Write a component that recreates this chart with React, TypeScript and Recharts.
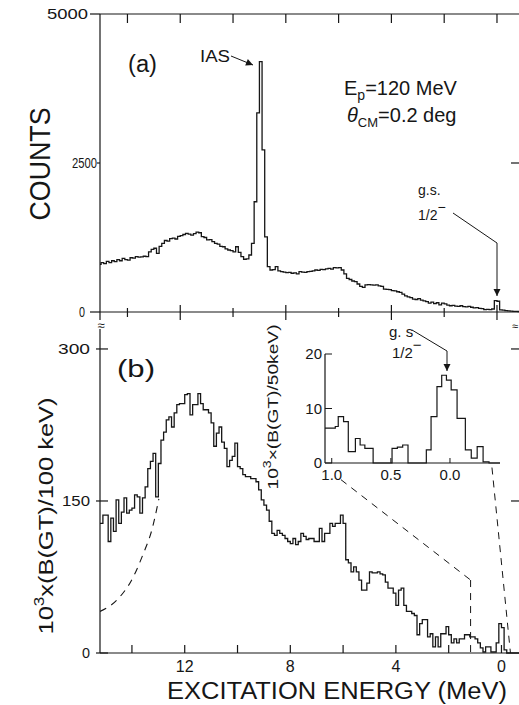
import React from 'react';
import { LineChart, Line, XAxis, YAxis, ReferenceLine } from 'recharts';

const INK = '#161616';
const FONT = '"Liberation Sans", "DejaVu Sans", sans-serif';

// (a) counts in 0.1 MeV bins, bin i starts at countsStart - i * binStep (MeV)
const countsStart = 15.1;
const counts = [
  800, 830, 810, 850, 830, 860, 845, 880, 860, 900,
  880, 870, 910, 905, 930, 920, 925, 935, 930, 1010,
  1050, 1070, 985, 1100, 1150, 1200, 1190, 1230, 1240, 1225,
  1270, 1280, 1300, 1320, 1305, 1290, 1315, 1340, 1330, 1265,
  1250, 1210, 1215, 1180, 1150, 1140, 1100, 1095, 1060, 1040,
  1030, 1010, 1095, 1000, 930, 885, 890, 956, 1150, 1850,
  3340, 4200, 2720, 1260, 760, 705, 710, 760, 690, 676,
  670, 660, 665, 650, 655, 640, 676, 670, 665, 676,
  680, 690, 705, 700, 716, 710, 725, 733, 720, 744,
  740, 744, 705, 640, 565, 545, 520, 508, 470, 430,
  414, 455, 460, 455, 450, 455, 440, 430, 385, 380,
  375, 360, 355, 340, 330, 300, 270, 255, 240, 215,
  210, 225, 200, 185, 175, 150, 165, 140, 155, 120,
  150, 135, 115, 105, 110, 100, 95, 105, 90, 85,
  95, 80, 70, 75, 60, 55, 40, 45, 40, 50,
  190, 180, 35, 30, 22, 20, 15, 12, 10, 8,
];

// (b) 10^3 x B(GT) per 100 keV, same bin layout
const bgtStart = 15.3;
const bgt = [
  128, 128, 136, 136, 110, 133, 120, 151, 128, 139,
  153, 138, 141, 143, 156, 154, 138, 153, 164, 182,
  189, 197, 154, 187, 210, 218, 230, 233, 223, 237,
  245, 246, 246, 255, 256, 235, 245, 245, 256, 246,
  240, 240, 237, 227, 204, 217, 223, 208, 202, 184,
  190, 194, 207, 184, 182, 176, 174, 174, 172, 172,
  169, 161, 151, 146, 141, 130, 118, 116, 121, 118,
  116, 113, 110, 108, 113, 107, 110, 118, 115, 112,
  113, 113, 110, 110, 123, 110, 118, 118, 128, 125,
  128, 128, 136, 128, 92, 89, 80, 85, 80, 72,
  62, 62, 69, 80, 79, 79, 80, 78, 77, 70,
  64, 64, 59, 47, 62, 64, 47, 41, 41, 39,
  37, 18, 29, 33, 33, 16, 19, 6, 16, 6,
  19, 19, 26, 18, 10, 14, 10, 14, 14, 18,
  18, 16, 16, 14, 10, 5, 1, 6, 6, 1,
  1, 10, 29, 25, 3, 0, 0, 0, 0, 0,
];
const binStep = 0.1;

// dashed background under the left shoulder of (b)
const bgEnergy = [15.21, 14.58, 13.95, 13.57, 13.25, 12.98];
const bgLevel = [41, 52, 75, 98, 121, 152];

// inset: 50 keV bins, edges (last edge closes the last bin)
const insetEdges = [1.1, 0.97, 0.945, 0.9, 0.86, 0.8, 0.76, 0.72, 0.65, 0.49, 0.445, 0.4, 0.355,
  0.2, 0.16, 0.11, 0.07, 0.03, -0.01, -0.06, -0.13, -0.18, -0.23, -0.28, -0.33, -0.45];
const insetBgt = [6.4, 6.7, 8.5, 7.6, 2.1, 4.5, 3.3, 2.7, 0, 2.7, 2.9, 3.3, 0,
  2.4, 8.5, 14.0, 16.1, 15.2, 13.4, 8.2, 2.4, 0.9, 3.0, 0.2, 0];

// dashed lines joining the inset to the main axis (data units of panel b)
const zoomLeft = [{ x: 6.08, y: 171 }, { x: 1.17, y: 72 }, { x: 1.17, y: 0 }];
const zoomRight = [{ x: 0.36, y: 183 }, { x: -0.34, y: 0 }];

const energyTicks = [14, 12, 10, 8, 6, 4, 2, 0];
const countTicks = [0, 2500, 5000];
const bgtTicks = [0, 150, 300];
const rightCountTicks = [2500];
const rightBgtTicks = [150, 300];
const insetYTicks = [0, 10, 20];
const insetXTicks = [1.0, 0.5, 0.0];

const domainA: [number, number] = [-0.91, 15.04];
const domainB: [number, number] = [-0.74, 15.21];
const domainInset: [number, number] = [-0.423, 1.057];

const steps = (start: number, vals: number[]) => {
  const rows = vals.map((v, i) => ({ e: +(start - binStep * i).toFixed(2), v }));
  rows.push({ e: +(start - binStep * vals.length).toFixed(2), v: vals[vals.length - 1] });
  return rows;
};
const countRows = steps(countsStart, counts);
const bgtRows = steps(bgtStart, bgt);
const bgRows = bgEnergy.map((e, i) => ({ e, v: bgLevel[i] }));
const insetRows = insetEdges.map((e, i) => ({ e, v: insetBgt[Math.min(i, insetBgt.length - 1)] }));

const axisLine = { stroke: INK, strokeWidth: 1.2 };

const countLabel: Record<number, { dx: number; len: number; tick: number }> = {
  5000: { dx: -12, len: 41, tick: 10 },
  2500: { dx: -3, len: 25, tick: 3 },
  0: { dx: -15, len: 6, tick: 10 },
};
const bgtLabel: Record<number, number> = { 300: 32, 150: 28, 0: 8 };

const countTick = (p: any) => {
  const v = p.payload.value;
  const s = countLabel[v];
  return (
    <g>
      <line x1={p.x - s.tick} x2={p.x} y1={p.y} y2={p.y} stroke={INK} strokeWidth={1.2} />
      <text x={p.x + s.dx} y={p.y + 5} textAnchor="end" fontSize={14} fontFamily={FONT} fill={INK}
        textLength={s.len} lengthAdjust="spacingAndGlyphs">{v}</text>
    </g>
  );
};

const bgtTick = (p: any) => {
  const v = p.payload.value;
  return (
    <g>
      <line x1={p.x - 4} x2={p.x + 8} y1={p.y} y2={p.y} stroke={INK} strokeWidth={1.2} />
      <text x={p.x - 10} y={p.y + 5} textAnchor="end" fontSize={15} fontFamily={FONT} fill={INK}
        textLength={bgtLabel[v]} lengthAdjust="spacingAndGlyphs">{v}</text>
    </g>
  );
};

const topTick = (p: any) => (
  <line x1={p.x} x2={p.x} y1={p.y} y2={p.y + 9} stroke={INK} strokeWidth={1.2} />
);

const crossTick = (p: any) => {
  const major = p.payload.value % 4 === 0;
  return <line x1={p.x} x2={p.x} y1={p.y - (major ? 7 : 4)} y2={p.y + (major ? 8 : 5)} stroke={INK} strokeWidth={1.2} />;
};

const energyTickB = (p: any) => {
  const v = p.payload.value;
  return (
    <g>
      <line x1={p.x} x2={p.x} y1={p.y - 8} y2={p.y} stroke={INK} strokeWidth={1.2} />
      {v % 4 === 0 && (
        <text x={p.x} y={p.y + 19} textAnchor="middle" fontSize={16} fontFamily={FONT} fill={INK}>{v}</text>
      )}
    </g>
  );
};

const insetYTick = (p: any) => (
  <g>
    <line x1={p.x} x2={p.x + 7} y1={p.y} y2={p.y} stroke={INK} strokeWidth={1} />
    <text x={p.x - 3} y={p.y + 5} textAnchor="end" fontSize={15} fontFamily={FONT} fill={INK}>{p.payload.value}</text>
  </g>
);

const insetXTick = (p: any) => (
  <g>
    <line x1={p.x} x2={p.x} y1={p.y - 5} y2={p.y} stroke={INK} strokeWidth={1} />
    <text x={p.x} y={p.y + 17} textAnchor="middle" fontSize={15} fontFamily={FONT} fill={INK}>
      {p.payload.value.toFixed(1)}
    </text>
  </g>
);

const Arrow = ({ pts }: { pts: number[][] }) => {
  const [x1, y1] = pts[pts.length - 2];
  const [x2, y2] = pts[pts.length - 1];
  const a = Math.atan2(y2 - y1, x2 - x1);
  const l = 7;
  const w = 3.5;
  const bx = x2 - l * Math.cos(a);
  const by = y2 - l * Math.sin(a);
  const head = `${x2},${y2} ${bx + w * Math.sin(a)},${by - w * Math.cos(a)} ${bx - w * Math.sin(a)},${by + w * Math.cos(a)}`;
  return (
    <g>
      <polyline points={pts.map((p) => p.join(',')).join(' ')} fill="none" stroke={INK} strokeWidth={1} />
      <polygon points={head} fill={INK} />
    </g>
  );
};

const abs = (left: number, top: number): React.CSSProperties => ({ position: 'absolute', left, top });

export default function App() {
  return (
    <div style={{ position: 'fixed', left: 0, top: 0, width: 519, height: 705, overflow: 'hidden', background: '#fff' }}>
      {/* panel (a) */}
      <div style={abs(0, 0)}>
        <LineChart width={560} height={330} margin={{ top: 0, right: 39, bottom: 0, left: 0 }}>
          <XAxis xAxisId="top" orientation="top" type="number" dataKey="e" domain={domainA} reversed allowDataOverflow
            ticks={energyTicks} interval={0} height={14} tickLine={false} tickSize={0} tickMargin={0}
            tick={topTick} axisLine={axisLine} />
          <XAxis xAxisId="bot" orientation="bottom" type="number" dataKey="e" domain={domainA} reversed allowDataOverflow
            ticks={energyTicks} interval={0} height={18} tickLine={false} tickSize={0} tickMargin={0}
            tick={crossTick} axisLine={axisLine} />
          <YAxis yAxisId="l" width={100} type="number" domain={[0, 5000]} ticks={countTicks} interval={0}
            tickLine={false} tickSize={0} tickMargin={0} tick={countTick} axisLine={axisLine} />
          {rightCountTicks.map((t) => (
            <ReferenceLine key={t} xAxisId="bot" yAxisId="l" segment={[{ x: -0.53, y: t }, { x: -0.91, y: t }]}
              stroke={INK} strokeWidth={1.2} />
          ))}
          <Line xAxisId="bot" yAxisId="l" data={countRows} dataKey="v" type="stepAfter" stroke={INK}
            strokeWidth={1.3} dot={false} isAnimationActive={false} />
        </LineChart>
      </div>

      {/* panel (b) */}
      <div style={abs(0, 0)}>
        <LineChart width={560} height={705} margin={{ top: 329, right: 39, bottom: 0, left: 0 }}>
          <XAxis type="number" dataKey="e" domain={domainB} reversed allowDataOverflow ticks={energyTicks} interval={0}
            height={52} tickLine={false} tickSize={0} tickMargin={0} tick={energyTickB} axisLine={axisLine} />
          <YAxis width={100} type="number" domain={[0, 319.7]} ticks={bgtTicks} interval={0}
            tickLine={false} tickSize={0} tickMargin={0} tick={bgtTick} axisLine={axisLine} />
          {rightBgtTicks.map((t) => (
            <ReferenceLine key={t} segment={[{ x: -0.36, y: t }, { x: -0.74, y: t }]} stroke={INK} strokeWidth={1.2} />
          ))}
          <ReferenceLine segment={[zoomLeft[0], zoomLeft[1]]} stroke={INK} strokeWidth={1} strokeDasharray="7 6" />
          <ReferenceLine segment={[zoomLeft[1], zoomLeft[2]]} stroke={INK} strokeWidth={1} strokeDasharray="7 6" />
          <ReferenceLine segment={[zoomRight[0], zoomRight[1]]} stroke={INK} strokeWidth={1} strokeDasharray="7 6" />
          <Line data={bgRows} dataKey="v" type="monotone" stroke={INK} strokeWidth={1.1} strokeDasharray="7 6"
            dot={false} isAnimationActive={false} />
          <Line data={bgtRows} dataKey="v" type="stepAfter" stroke={INK} strokeWidth={1.3}
            dot={false} isAnimationActive={false} />
        </LineChart>
      </div>

      {/* inset */}
      <div style={abs(260, 340)}>
        <LineChart width={240} height={148} margin={{ top: 14, right: 0, bottom: 0, left: 0 }}>
          <XAxis type="number" dataKey="e" domain={domainInset} reversed allowDataOverflow ticks={insetXTicks} interval={0}
            height={25} tickLine={false} tickSize={0} tickMargin={0} tick={insetXTick} axisLine={axisLine} />
          <YAxis width={65} type="number" domain={[0, 20]} ticks={insetYTicks} interval={0}
            tickLine={false} tickSize={0} tickMargin={0} tick={insetYTick} axisLine={axisLine} />
          <Line data={insetRows} dataKey="v" type="stepAfter" stroke={INK} strokeWidth={1.2}
            dot={false} isAnimationActive={false} />
        </LineChart>
      </div>

      {/* labels and annotations */}
      <svg width={519} height={705} style={abs(0, 0)} fontFamily={FONT} fill={INK}>
        <line x1={100} y1={312} x2={100} y2={320} stroke={INK} strokeWidth={1.2} />
        <text x={101} y={330} fontSize={13} textAnchor="middle">≈</text>
        <text x={515} y={330} fontSize={11} textAnchor="middle">≈</text>

        <text x={128} y={72} fontSize={23} textLength={29} lengthAdjust="spacingAndGlyphs">(a)</text>
        <text x={200} y={62} fontSize={16} textLength={30} lengthAdjust="spacingAndGlyphs">IAS</text>
        <Arrow pts={[[231, 56], [253, 65]]} />
        <text x={344} y={95} fontSize={20}>
          E<tspan fontSize={14} dy={5}>p</tspan><tspan dy={-5}>=120 MeV</tspan>
        </text>
        <text x={347} y={122} fontSize={20}>
          <tspan fontStyle="italic">θ</tspan><tspan fontSize={13} dy={5}>CM</tspan><tspan dy={-5}>=0.2 deg</tspan>
        </text>
        <text x={418} y={195} fontSize={14}>g.s.</text>
        <text x={418} y={220} fontSize={14}>1/2<tspan dy={-8}>−</tspan></text>
        <Arrow pts={[[453, 213], [497, 243], [497, 296]]} />
        <text transform="translate(50,164) rotate(-90)" textAnchor="middle" fontSize={30}
          textLength={113} lengthAdjust="spacingAndGlyphs">COUNTS</text>

        <text x={117} y={377} fontSize={23} textLength={38} lengthAdjust="spacingAndGlyphs">(b)</text>
        <text transform="translate(53,516) rotate(-90)" textAnchor="middle" fontSize={21}
          textLength={237} lengthAdjust="spacingAndGlyphs">
          10<tspan fontSize={14} dy={-9}>3</tspan><tspan dy={9}>x(B(GT)/100 keV)</tspan>
        </text>
        <text transform="translate(278,407) rotate(-90)" textAnchor="middle" fontSize={15}
          textLength={165} lengthAdjust="spacingAndGlyphs">
          10<tspan fontSize={11} dy={-7}>3</tspan><tspan dy={7}>×(B(GT)/50keV)</tspan>
        </text>
        <text x={389} y={337} fontSize={15}>g. s</text>
        <text x={392} y={358} fontSize={15}>1/2<tspan dy={-8}>−</tspan></text>
        <Arrow pts={[[412, 330], [447, 351], [447, 371]]} />

        <text x={337} y={699} fontSize={23} textAnchor="middle" textLength={340}
          lengthAdjust="spacingAndGlyphs">EXCITATION ENERGY (MeV)</text>
      </svg>
    </div>
  );
}
